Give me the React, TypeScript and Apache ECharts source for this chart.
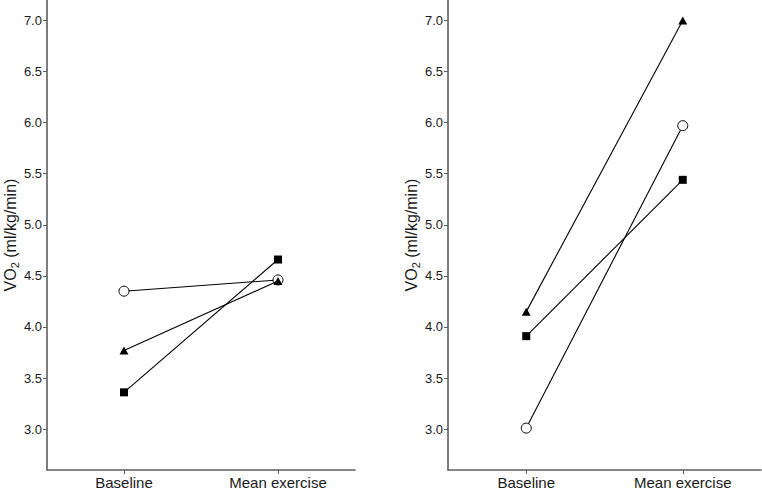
import React, { useEffect, useRef } from "react";
import * as echarts from "echarts";

// Mean VO2 per subject at baseline and during exercise, two panels
const categories = ["Baseline", "Mean exercise"];
const yTicks = [3.0, 3.5, 4.0, 4.5, 5.0, 5.5, 6.0, 6.5, 7.0];

const leftCircle = [4.35, 4.46];
const leftTriangle = [3.77, 4.45];
const leftSquare = [3.36, 4.66];

const rightCircle = [3.01, 5.97];
const rightTriangle = [4.15, 7.0];
const rightSquare = [3.91, 5.44];

const AXIS_GRAY = "#5e5e5e";
const TEXT = "#1a1a1a";
const FONT = "Liberation Sans, Arial, sans-serif";

function yAxis(gridIndex: number) {
  return {
    type: "value",
    gridIndex,
    min: 2.6,
    max: 7.2,
    name: "{a|VO}{s|2}{a| (ml/kg/min)}",
    nameLocation: "middle",
    nameGap: 25,
    nameRotate: 90,
    nameTextStyle: {
      rich: {
        a: { fontSize: 16, color: TEXT, fontFamily: FONT, lineHeight: 19 },
        s: { fontSize: 11, color: TEXT, fontFamily: FONT, padding: [8, 0, 0, 0], lineHeight: 19 },
      },
    },
    axisLine: { show: true, lineStyle: { color: AXIS_GRAY, width: 1.6 } },
    axisTick: { show: true, inside: false, length: 4, customValues: yTicks, lineStyle: { color: AXIS_GRAY, width: 1 } },
    axisLabel: {
      customValues: yTicks,
      formatter: (v: number) => v.toFixed(1),
      fontSize: 13,
      color: TEXT,
      fontFamily: FONT,
      margin: 5,
    },
    splitLine: { show: false },
  };
}

function xAxis(gridIndex: number) {
  return {
    type: "category",
    gridIndex,
    data: categories,
    boundaryGap: true,
    axisLine: { show: true, lineStyle: { color: AXIS_GRAY, width: 1.6 } },
    axisTick: { show: true, alignWithLabel: true, length: 4, lineStyle: { color: AXIS_GRAY, width: 1 } },
    axisLabel: { fontSize: 15, color: TEXT, fontFamily: FONT, margin: 5 },
  };
}

function lineSeries(idx: number, data: number[], kind: "circle" | "triangle" | "square") {
  const base: any = {
    type: "line",
    xAxisIndex: idx,
    yAxisIndex: idx,
    data,
    lineStyle: { color: "#000", width: 1.1 },
    emphasis: { disabled: true },
  };
  if (kind === "circle") {
    base.symbol = "circle";
    base.symbolSize = 10;
    base.itemStyle = { color: "#fff", borderColor: "#000", borderWidth: 1 };
    base.z = 2;
  } else if (kind === "triangle") {
    base.symbol = "triangle";
    base.symbolSize = [9, 8];
    base.itemStyle = { color: "#000", borderWidth: 0 };
    base.z = 3;
  } else {
    base.symbol = "rect";
    base.symbolSize = 8;
    base.itemStyle = { color: "#000", borderWidth: 0 };
    base.z = 3;
  }
  return base;
}

export default function App() {
  const ref = useRef<HTMLDivElement>(null);
  useEffect(() => {
    if (!ref.current) return;
    const chart = echarts.init(ref.current, undefined, { renderer: "svg" });
    chart.setOption({
      animation: false,
      backgroundColor: "#fff",
      grid: [
        { left: 42, right: 407, top: 0, bottom: 20 },
        { left: 448, right: 1, top: 0, bottom: 20 },
      ],
      xAxis: [xAxis(0), xAxis(1)],
      yAxis: [yAxis(0), yAxis(1)],
      series: [
        lineSeries(0, leftCircle, "circle"),
        lineSeries(0, leftTriangle, "triangle"),
        lineSeries(0, leftSquare, "square"),
        lineSeries(1, rightCircle, "circle"),
        lineSeries(1, rightTriangle, "triangle"),
        lineSeries(1, rightSquare, "square"),
      ],
    });
    return () => chart.dispose();
  }, []);
  return (
    <div
      ref={ref}
      style={{ width: 762, height: 490, position: "fixed", left: 0, top: 0, background: "#fff" }}
    />
  );
}
